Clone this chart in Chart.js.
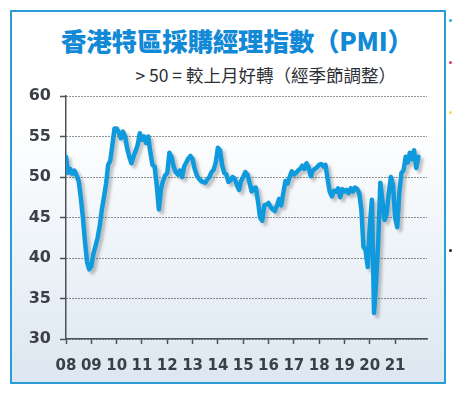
<!DOCTYPE html>
<html>
<head>
<meta charset="utf-8">
<script src="https://cdn.jsdelivr.net/npm/chart.js@4.4.0/dist/chart.umd.min.js"></script>
<style>
  html, body { margin: 0; padding: 0; background: #fff; }
  body { width: 456px; height: 393px; position: relative; overflow: hidden; }
  #frame {
    position: absolute; left: 10px; top: 10px; width: 436px; height: 374px;
    box-sizing: border-box; border: 2.5px solid #2b9bd4;
    background: linear-gradient(to bottom, #ffffff 0%, #ffffff 30%, #dce7f1 100%);
  }
  #title {
    position: absolute; left: 61px; top: 21px; line-height: 28px;
    font: 900 25.5px "Noto Sans CJK TC", "Noto Sans", sans-serif; color: #1189d6;
    white-space: nowrap; letter-spacing: -0.2px;
  }
  #subtitle {
    position: absolute; right: 60px; top: 62px; line-height: 20px;
    font: 17.5px "Noto Sans CJK TC", "Noto Sans", sans-serif; color: #2c2f35;
    white-space: nowrap;
  }
  .dot { position: absolute; left: 449px; width: 3px; height: 3px; border-radius: 2px; }
  canvas { position: absolute; left: 0; top: 0; }
</style>
</head>
<body>
<div id="frame"></div>
<div id="title">香港特區採購經理指數（PMI）</div>
<div id="subtitle">&gt; 50 = 較上月好轉（經季節調整）</div>
<div class="dot" style="top:19px;background:#22aee0"></div>
<div class="dot" style="top:61px;background:#d8357f"></div>
<div class="dot" style="top:111px;background:#f0e040"></div>
<div class="dot" style="top:249px;background:#222"></div>
<canvas id="pmi" width="456" height="393"></canvas>
<script>
// Hong Kong PMI, monthly readings Jan..Dec of each year
var years = [2008, 2009, 2010, 2011, 2012, 2013, 2014, 2015, 2016, 2017, 2018, 2019, 2020, 2021]
var pmi2008 = [52.5, 50.5, 51.0, 50.4, 50.8, 50.2, 49.5, 47.5, 45.0, 42.0, 39.5, 38.6]
var pmi2009 = [39.0, 40.5, 41.5, 42.5, 44.0, 46.0, 47.5, 49.2, 51.5, 52.0, 54.0, 56.0]
var pmi2010 = [56.0, 55.5, 54.8, 55.6, 55.0, 53.5, 52.5, 51.7, 52.5, 53.2, 54.0, 55.4]
var pmi2011 = [54.6, 55.0, 54.2, 55.0, 53.0, 51.5, 51.3, 49.0, 46.0, 48.5, 49.5, 50.2]
var pmi2012 = [50.5, 53.0, 52.5, 51.3, 50.6, 50.3, 50.8, 50.0, 51.3, 51.8, 52.3, 52.6]
var pmi2013 = [52.2, 51.0, 50.2, 49.8, 49.5, 49.4, 49.3, 49.7, 50.0, 50.6, 50.9, 51.8]
var pmi2014 = [53.6, 53.3, 51.5, 50.5, 50.3, 49.4, 49.6, 50.0, 49.8, 49.0, 48.4, 49.5]
var pmi2015 = [50.0, 50.6, 50.3, 49.3, 48.2, 48.6, 48.7, 47.0, 45.0, 44.6, 46.5, 46.6]
var pmi2016 = [46.8, 46.3, 46.0, 45.8, 46.5, 47.3, 46.5, 48.0, 49.5, 49.2, 50.0, 50.7]
var pmi2017 = [50.3, 50.5, 50.8, 51.0, 51.4, 51.0, 51.7, 51.2, 50.1, 50.8, 51.0, 51.2]
var pmi2018 = [51.5, 51.6, 51.3, 51.5, 49.8, 48.2, 47.6, 48.3, 48.2, 48.6, 47.5, 48.5]
var pmi2019 = [48.2, 48.4, 48.0, 48.6, 48.2, 48.7, 48.5, 48.0, 46.0, 41.4, 41.0, 38.9]
var pmi2020 = [44.0, 47.2, 33.2, 37.0, 42.0, 49.3, 47.0, 44.7, 45.5, 48.0, 50.0, 49.0]
var pmi2021 = [45.0, 43.8, 48.0, 50.5, 50.8, 52.5, 51.8, 53.0, 52.2, 53.3, 51.1, 52.5]
var yTicks = [30, 35, 40, 45, 50, 55, 60]

var series = [pmi2008, pmi2009, pmi2010, pmi2011, pmi2012, pmi2013, pmi2014,
              pmi2015, pmi2016, pmi2017, pmi2018, pmi2019, pmi2020, pmi2021]
var points = []
series.forEach(function (vals, i) {
	vals.forEach(function (v, m) { points.push({x: years[i] + m / 12, y: v}) })
})

var axisGrey = '#4d5159'
var labelFont = {family: 'DejaVu Sans', size: 16, weight: 'bold'}

// soft drop shadow under the line
var lineShadow = {
	id: 'lineShadow',
	beforeDatasetsDraw: function (chart) {
		var ctx = chart.ctx
		ctx.save()
		ctx.shadowColor = 'rgba(80,80,80,0.35)'
		ctx.shadowBlur = 3
		ctx.shadowOffsetX = 3
		ctx.shadowOffsetY = 3
	},
	afterDatasetsDraw: function (chart) { chart.ctx.restore() }
}

var chart = new Chart(document.getElementById('pmi'), {
	type: 'line',
	data: {
		datasets: [{
			data: points,
			borderColor: '#0f9ade',
			borderWidth: 4.5,
			pointRadius: 0,
			tension: 0,
			borderJoinStyle: 'round',
			borderCapStyle: 'round'
		}]
	},
	options: {
		responsive: false,
		animation: false,
		devicePixelRatio: 1,
		layout: {padding: {top: 96, right: 29, bottom: 22, left: 0}},
		plugins: {legend: {display: false}, tooltip: {enabled: false}},
		scales: {
			x: {
				type: 'linear',
				min: years[0],
				max: 2022.26,
				afterBuildTicks: function (s) {
					s.ticks = years.map(function (y) { return {value: y} })
				},
				afterFit: function (s) { s.height = 32 },
				ticks: {
					autoSkip: false, maxRotation: 0, padding: 13,
					color: '#3b3f47', font: {family: 'DejaVu Sans', size: 15, weight: 'bold'},
					callback: function (v) { return String(v % 100).padStart(2, '0') }
				},
				grid: {drawOnChartArea: false, tickLength: 5, tickColor: axisGrey, tickWidth: 1.5},
				border: {color: axisGrey, width: 1.5}
			},
			y: {
				min: 30,
				max: 60,
				afterBuildTicks: function (s) {
					s.ticks = yTicks.map(function (v) { return {value: v} })
				},
				afterFit: function (s) { s.width = 66 },
				ticks: {padding: 9, color: '#3b3f47', font: labelFont},
				grid: {color: '#222428', lineWidth: 1, tickLength: 6, tickColor: axisGrey, tickWidth: 1.5, tickBorderDash: []},
				border: {color: axisGrey, width: 1.5, dash: [1, 2]}
			}
		}
	},
	plugins: [lineShadow]
})
</script>
</body>
</html>
